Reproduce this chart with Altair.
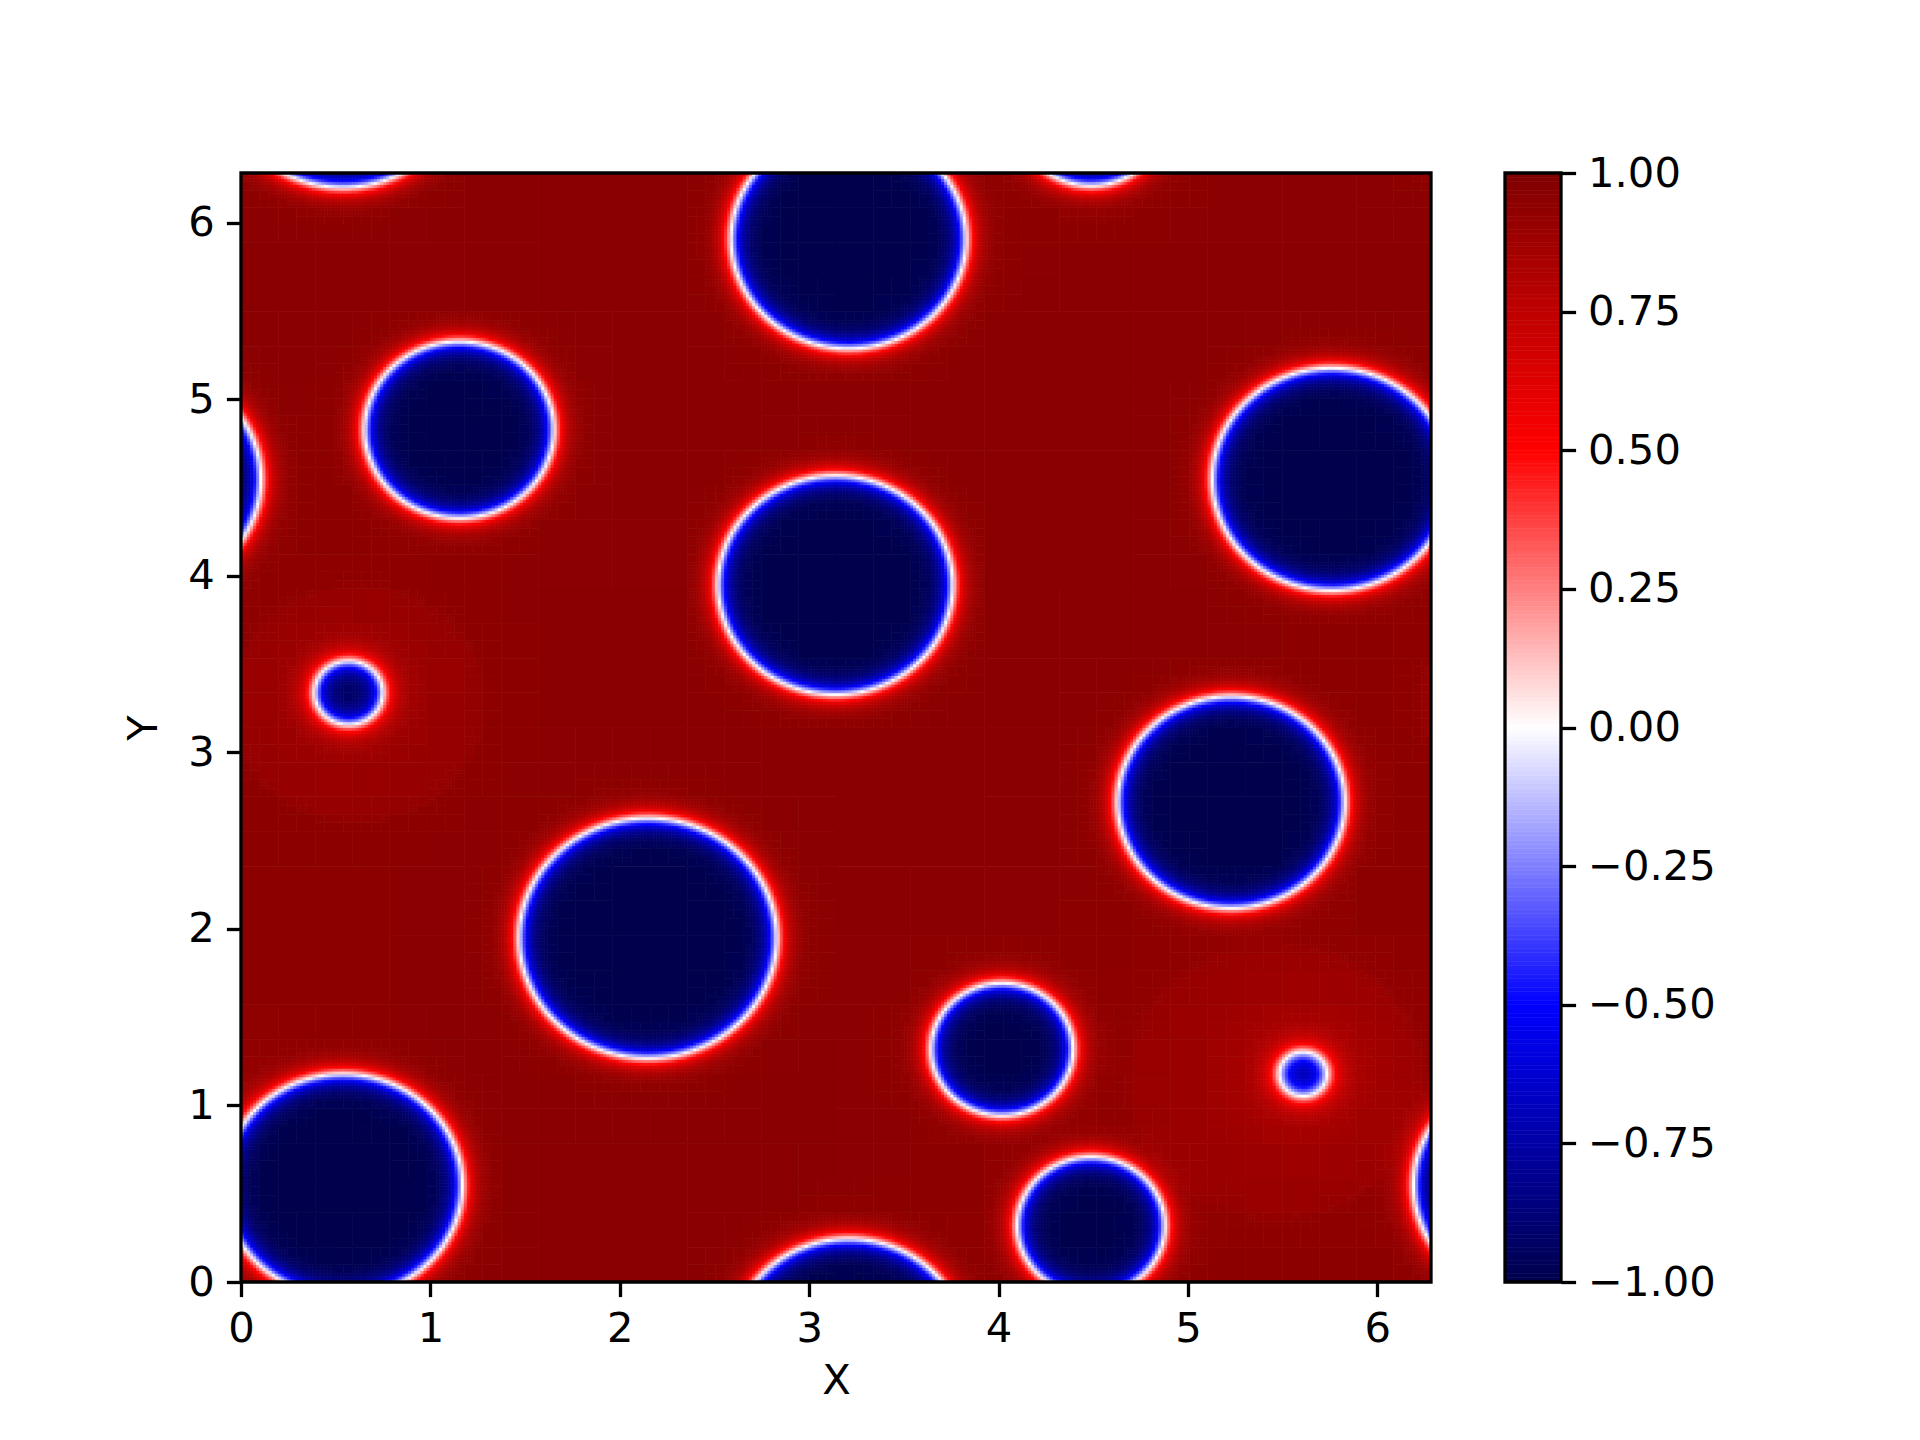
import numpy as np
import pandas as pd
import altair as alt

# ---- data ----
# droplet centres (X, Y), radii and inner depth; domain is periodic [0, 2*pi)
drop_x = [3.21, 1.154, 5.76, 3.14, 0.57, 5.23, 2.15, 4.02, 5.61, 0.54, 4.49]
drop_y = [5.91, 4.83, 4.55, 3.95, 3.34, 2.72, 1.95, 1.32, 1.18, 0.55, 0.32]
drop_r = [0.62, 0.50, 0.63, 0.62, 0.18, 0.60, 0.68, 0.375, 0.125, 0.63, 0.39]
drop_depth = [1.0, 1.0, 1.0, 1.0, 0.95, 1.0, 1.0, 1.0, 0.75, 1.0, 1.0]
# faint depletion discs around the two smallest droplets
halo_x = [0.62, 5.46]
halo_y = [3.28, 1.14]
halo_r = [0.67, 0.78]
halo_d = [0.03, 0.03]
far_value = 0.965          # matrix level far from droplets
w_core, w_tail = 0.05, 0.09
gt_coef = 0.0019
gt_decay = 0.4

x_ticks = [0, 1, 2, 3, 4, 5, 6]
y_ticks = [0, 1, 2, 3, 4, 5, 6]
cb_ticks = [-1.0, -0.75, -0.5, -0.25, 0.0, 0.25, 0.5, 0.75, 1.0]
cmap_stops = [-1.0, -0.5, 0.0, 0.5, 1.0]
cmap_colors = ["#00004c", "#0000ff", "#ffffff", "#ff0000", "#800000"]

# ---- field on a grid ----
L = 2 * np.pi
N = 384
h = L / N
xs = (np.arange(N) + 0.5) * h
X, Y = np.meshgrid(xs, xs)


def pdist(cx, cy):
    dx = np.abs(X - cx)
    dx = np.minimum(dx, L - dx)
    dy = np.abs(Y - cy)
    dy = np.minimum(dy, L - dy)
    return np.hypot(dx, dy)


s = np.full(X.shape, np.inf)
depth = np.ones(X.shape)
bg = np.full(X.shape, far_value)
for cx, cy, r, dp in zip(drop_x, drop_y, drop_r, drop_depth):
    d = pdist(cx, cy)
    si = d - r
    closer = si < s
    depth = np.where(closer, dp, depth)
    s = np.minimum(s, si)
    bg -= (gt_coef / r ** 2) * np.exp(-np.maximum(si, 0) / gt_decay)
for cx, cy, r, dd in zip(halo_x, halo_y, halo_r, halo_d):
    d = pdist(cx, cy)
    bg -= dd * 0.5 * (1 - np.tanh((d - r) / 0.01))
prof = 0.5 * np.tanh(s / w_core) + 0.5 * np.tanh(s / w_tail)
phi = np.where(prof > 0, bg * prof, depth * prof)

# adaptive rectangles
rows = []
TOL = 0.03


def rec(i0, j0, size):
    blk = phi[i0:i0 + size, j0:j0 + size]
    if size == 1 or blk.max() - blk.min() < TOL:
        rows.append((round(j0 * h, 5), round((j0 + size) * h, 5),
                     round(i0 * h, 5), round((i0 + size) * h, 5),
                     round(float(blk.mean()), 4)))
        return
    if size % 2 == 0:
        half, n = size // 2, 2
    else:
        half, n = 1, size
    for a in range(n):
        for b in range(n):
            rec(i0 + a * half, j0 + b * half, half)


B0 = 48
for i in range(0, N, B0):
    for j in range(0, N, B0):
        rec(i, j, B0)
heat_df = pd.DataFrame(rows, columns=["x0", "x1", "y0", "y1", "v"])
frame_df = pd.DataFrame({"x0": [0.0], "x1": [L], "y0": [0.0], "y1": [L]})

cb_edges = np.linspace(-1, 1, 257)
cb_df = pd.DataFrame({"c0": np.zeros(256), "c1": np.ones(256),
                      "v0": cb_edges[:-1], "v1": cb_edges[1:],
                      "v": (cb_edges[:-1] + cb_edges[1:]) / 2})
cb_frame_df = pd.DataFrame({"c0": [0.0], "c1": [1.0], "v0": [-1.0], "v1": [1.0]})

# ---- chart ----
FONT = "DejaVu Sans"
FS = 41.7
PW, PH, CBW = 1190, 1109, 56

cscale = alt.Scale(domain=cmap_stops, range=cmap_colors, interpolate="rgb")
xscale = alt.Scale(domain=[0, L], nice=False, zero=False)
yscale = alt.Scale(domain=[0, L], nice=False, zero=False)

ax_common = dict(labelFont=FONT, labelFontSize=FS, titleFont=FONT, titleFontSize=FS,
                 titleFontWeight="normal", labelColor="black", titleColor="black",
                 tickColor="black", tickWidth=3.3, tickSize=14.6, labelPadding=12,
                 domain=False, grid=False, labelFlush=False, labelOverlap=False)

heat = alt.Chart(heat_df).mark_rect(strokeWidth=0.7).encode(
    x=alt.X("x0:Q", scale=xscale, title="X",
            axis=alt.Axis(values=x_ticks, format="d", titlePadding=10, **ax_common)),
    x2="x1:Q",
    y=alt.Y("y0:Q", scale=yscale, title="Y",
            axis=alt.Axis(values=y_ticks, format="d", titlePadding=22, **ax_common)),
    y2="y1:Q",
    color=alt.Color("v:Q", scale=cscale, legend=None),
    stroke=alt.Stroke("v:Q", scale=cscale, legend=None),
)
frame = alt.Chart(frame_df).mark_rect(filled=False, stroke="black", strokeWidth=3.3).encode(
    x=alt.X("x0:Q", scale=xscale, title="X"), x2="x1:Q",
    y=alt.Y("y0:Q", scale=yscale, title="Y"), y2="y1:Q",
)
main = alt.layer(heat, frame).properties(width=PW, height=PH)

cbscale_y = alt.Scale(domain=[-1, 1], nice=False, zero=False)
cbscale_x = alt.Scale(domain=[0, 1], nice=False, zero=False)
cb = alt.Chart(cb_df).mark_rect(strokeWidth=0.6).encode(
    x=alt.X("c0:Q", scale=cbscale_x, axis=None), x2="c1:Q",
    y=alt.Y("v0:Q", scale=cbscale_y, title=None,
            axis=alt.Axis(orient="right", values=cb_ticks,
                          labelExpr="replace(format(datum.value, '.2f'), '-', '\u2212')",
                          **ax_common)),
    y2="v1:Q",
    color=alt.Color("v:Q", scale=cscale, legend=None),
    stroke=alt.Stroke("v:Q", scale=cscale, legend=None),
)
cb_frame = alt.Chart(cb_frame_df).mark_rect(filled=False, stroke="black", strokeWidth=3.3).encode(
    x=alt.X("c0:Q", scale=cbscale_x, axis=None), x2="c1:Q",
    y=alt.Y("v0:Q", scale=cbscale_y, title=None), y2="v1:Q",
)
colorbar = alt.layer(cb, cb_frame).properties(width=CBW, height=PH)

chart = alt.hconcat(main, colorbar, spacing=68).resolve_scale(color="independent", stroke="independent").properties(
    padding={"left": 115, "top": 144, "right": 10, "bottom": 10}
).configure_view(stroke=None).configure(background="white")

chart.save("out.html", embed_options={"renderer": "svg", "actions": False})
